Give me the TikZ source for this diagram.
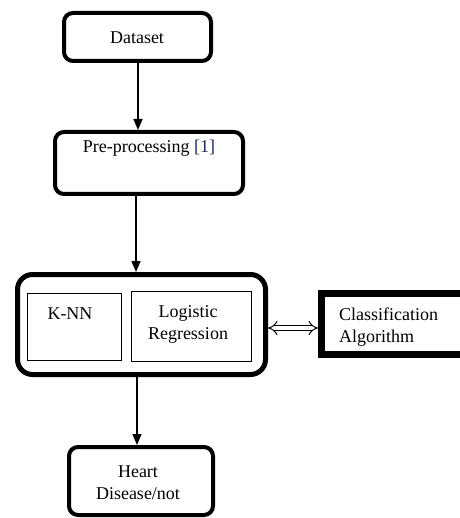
\documentclass[tikz,border=0pt]{standalone}
\usepackage{fontspec}
\setmainfont{Liberation Serif}
\usetikzlibrary{arrows.meta,calc}
\definecolor{refblue}{RGB}{25,40,95}
\begin{document}
\begin{tikzpicture}[x=1pt,y=-1pt,
  every node/.style={font=\fontsize{18}{22}\selectfont, inner sep=0pt, outer sep=0pt},
  roundbox/.style={draw, line width=4pt, rounded corners=9pt, minimum width=#1},
  bigbox/.style={draw, line width=5pt, rounded corners=15pt},
  thinbox/.style={draw, line width=0.8pt},
  algobox/.style={draw, line width=7pt},
  label/.style={align=center},
  flow/.style={line width=1.5pt, -{Triangle[length=11pt,width=9pt]}},
  link/.style={double, double distance=4pt, line width=1pt, {Implies[length=9pt]}-{Implies[length=9pt]}}
]
\useasboundingbox (0,0) rectangle (459,518);
\fill[white] (0,0) rectangle (459,518);

% Input data
\node[roundbox=147pt, minimum height=48pt, outer sep=2pt] (data) at (137.5,37) {};
\node[label] (datatext) at (137,38) {Dataset};

% Pre-processing stage
\node[roundbox=188pt, minimum height=62pt, outer sep=2pt] (pre) at (149,163) {};
\node[label] (pretext) at (149,148) {Pre-processing \textcolor{refblue}{[1]}};

% Model block with the two learners
\node[bigbox, minimum width=248pt, minimum height=100pt, outer sep=2.5pt] (model) at (141.5,324.5) {};
\node[thinbox, minimum width=94pt, minimum height=67pt] (knn) at (74,326.5) {};
\node[label] (knntext) at (70,314) {K-NN};
\node[thinbox, minimum width=120pt, minimum height=70pt] (lr) at (191,326) {};
\node[label] (lrtext) at (188,324) {Logistic\\Regression};

% Classification algorithm box (runs past the right edge)
\node[algobox, minimum width=142pt, minimum height=61pt, outer sep=3.5pt] (algo) at (392.5,324) {};
\node[align=left, anchor=west] (algotext) at (339,327) {Classification\\Algorithm};

% Output
\node[roundbox=144pt, minimum height=68pt, outer sep=2pt] (out) at (141,481) {};
\node[label] (outtext) at (138,483) {Heart\\Disease/not};

% Connectors
\draw[flow] ([xshift=0.5pt]data.south) -- ([xshift=0.5pt]data.south |- pre.north);
\draw[flow] ([xshift=-13pt]pre.south) -- ([xshift=-13pt]pre.south |- model.north);
\draw[flow] ([xshift=-4.5pt]model.south) -- ([xshift=-4.5pt]model.south |- out.north);
\draw[link] (model.east |- 0,328) -- (algo.west |- 0,328);
\end{tikzpicture}
\end{document}
